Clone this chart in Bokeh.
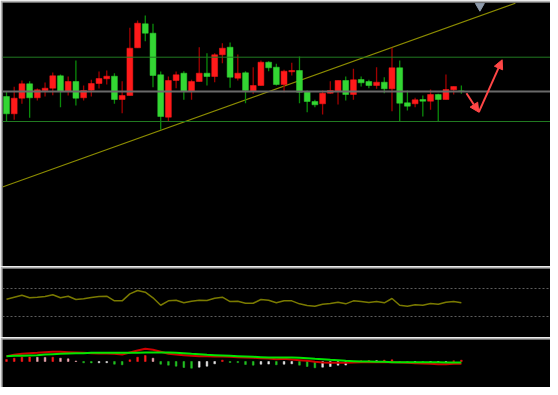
from bokeh.plotting import figure
from bokeh.layouts import column
from bokeh.models import Range1d, Span, Arrow, NormalHead, ColumnDataSource
from bokeh.embed import file_html
from bokeh.resources import INLINE

# ---------------- data ----------------
opens = [204.0, 186.7, 202.3, 216.7, 202.7, 210.0, 212.3, 224.7, 209.0, 219.0,
         202.7, 210.3, 217.0, 221.7, 224.3, 201.0, 205.0, 252.7, 276.7, 267.3,
         225.7, 183.3, 220.0, 227.3, 209.0, 219.0, 227.3, 224.0, 245.7, 253.3,
         222.3, 227.7, 209.3, 215.0, 238.3, 233.3, 216.0, 228.7, 230.0, 209.0,
         199.0, 196.7, 207.3, 209.3, 220.0, 206.0, 221.0, 219.0, 215.0, 218.3,
         211.7, 232.7, 197.7, 196.7, 201.0, 199.3, 206.0, 201.0, 210.7, 209.5]
highs = [209.0, 213.7, 220.0, 219.3, 212.0, 218.0, 228.0, 226.0, 224.0, 240.0,
         215.0, 220.7, 229.0, 230.0, 227.3, 219.3, 272.7, 280.0, 285.0, 276.7,
         229.0, 224.0, 229.0, 229.3, 220.7, 253.3, 247.3, 247.3, 257.3, 258.0,
         246.0, 229.3, 233.3, 240.0, 239.3, 236.7, 230.7, 237.7, 244.0, 210.0,
         200.7, 210.0, 219.3, 220.0, 224.0, 231.7, 224.0, 220.7, 233.3, 223.3,
         252.7, 240.0, 210.0, 202.7, 205.0, 211.0, 206.7, 226.0, 214.0, 215.0]
lows = [179.3, 180.7, 196.7, 182.7, 200.0, 204.0, 205.3, 193.3, 205.0, 195.0,
        200.0, 204.0, 212.0, 216.0, 196.7, 187.3, 205.0, 252.7, 259.3, 213.3,
        170.7, 179.0, 212.3, 200.7, 200.7, 219.0, 215.0, 218.3, 237.3, 212.7,
        220.0, 197.3, 206.7, 215.0, 229.3, 215.0, 208.3, 225.0, 197.3, 188.3,
        193.3, 186.0, 206.7, 196.0, 200.0, 200.7, 214.0, 212.3, 211.7, 207.3,
        189.3, 179.3, 190.0, 193.3, 184.0, 190.7, 179.0, 201.0, 206.0, 206.7]
closes = [186.7, 202.3, 216.7, 202.7, 210.7, 212.3, 224.7, 209.0, 219.0, 202.3,
          210.0, 217.0, 222.0, 224.3, 201.0, 205.0, 252.3, 277.3, 267.3, 225.0,
          184.0, 220.0, 225.7, 209.0, 219.0, 227.3, 224.0, 245.7, 252.3, 223.3,
          227.3, 210.0, 215.0, 238.3, 232.7, 216.0, 229.3, 230.0, 208.3, 199.0,
          195.7, 207.3, 210.0, 220.0, 206.0, 220.7, 217.7, 215.0, 218.3, 211.7,
          232.7, 197.3, 194.3, 200.7, 199.3, 206.0, 201.0, 211.0, 214.0, 209.3]

# horizontal levels (resistance, current, support)
levels = [243.3, 209.0, 179.0]
# trend line anchors (bar index, price)
trend_x = [-0.52, 66.0]
trend_y = [113.5, 297.2]
# projected path (bar index, price)
proj_x = [59.66, 61.26, 64.29]
proj_y = [207.3, 188.3, 240.7]
marker_x = [61.4]
marker_y = [294.5]

rsi = [54.7, 57.6, 60.4, 56.7, 57.6, 58.6, 61.0, 56.7, 59.0, 54.3,
       55.3, 57.1, 58.6, 59.0, 52.4, 52.4, 62.4, 67.1, 64.7, 56.7,
       46.1, 52.4, 53.3, 49.6, 51.9, 53.3, 52.9, 56.1, 57.6, 51.4,
       51.9, 49.0, 49.0, 54.3, 53.3, 49.6, 52.4, 52.4, 48.1, 45.7,
       44.7, 47.6, 48.6, 50.4, 48.1, 52.4, 51.4, 50.0, 51.4, 49.6,
       55.7, 46.1, 44.7, 46.7, 46.1, 48.6, 47.6, 50.4, 51.4, 49.6]
rsi_levels = [70, 30]

macd = [5.33, 6.67, 7.67, 8.33, 8.67, 9.33, 9.67, 9.67, 9.33, 9.0,
        8.67, 8.33, 8.0, 8.0, 7.67, 7.0, 9.0, 11.0, 12.67, 11.67,
        9.67, 7.67, 7.0, 6.33, 5.67, 5.33, 5.33, 5.0, 5.0, 4.67,
        4.33, 4.0, 3.67, 3.33, 3.0, 2.33, 2.67, 2.0, 1.33, 0.67,
        -0.33, -1.0, -1.33, -1.33, -1.33, -1.0, -0.67, -0.67, -0.67, -0.67,
        -0.67, -1.0, -1.33, -1.67, -2.0, -2.33, -2.67, -2.67, -2.33, -2.33]
signal = [5.33, 5.67, 5.67, 6.0, 6.33, 7.0, 7.33, 7.67, 8.0, 8.33,
          8.33, 8.67, 8.67, 8.67, 8.67, 8.67, 8.67, 8.67, 9.0, 9.0,
          9.0, 9.0, 8.67, 8.33, 7.67, 7.33, 6.67, 6.33, 6.0, 5.67,
          5.33, 5.0, 4.67, 4.33, 4.0, 4.0, 4.0, 4.0, 3.67, 3.33,
          2.67, 2.33, 1.67, 1.33, 0.67, 0.33, 0.0, 0.0, -0.33, -0.33,
          -0.67, -0.67, -0.67, -0.67, -0.67, -0.67, -0.67, -1.0, -1.0, -1.0]
hist = [2.0, 3.3, 4.3, 4.4, 4.2, 4.1, 4.3, 3.3, 2.7, 0.5,
        -1.3, -1.4, -1.3, -1.2, -2.7, -3.3, 1.7, 4.3, 6.0, 3.3,
        -2.7, -3.7, -4.7, -6.0, -6.7, -5.7, -4.7, -2.3, 1.3, -1.0,
        -1.1, -3.0, -3.7, -2.7, -2.6, -3.3, -2.7, -2.3, -3.7, -5.0,
        -6.3, -5.7, -5.0, -3.7, -3.6, -1.0, 0.7, 1.0, 0.9, 1.3,
        1.7, -0.7, -1.0, -0.9, -1.3, -1.2, -1.1, -1.0, 0.7, 1.3]

# ---------------- styling ----------------
UP_BODY, UP_WICK = "#ff1a1a", "#a00000"
DN_BODY, DN_WICK = "#33d633", "#0a8a0a"
BORDER = "#b0b0b0"

n = len(opens)
idx = list(range(n))
is_up = [c >= o for o, c in zip(opens, closes)]
src = ColumnDataSource(dict(
    x=idx, o=opens, h=highs, l=lows, c=closes,
    top=[max(o, c) for o, c in zip(opens, closes)],
    bot=[min(o, c) for o, c in zip(opens, closes)],
    body=[UP_BODY if u else DN_BODY for u in is_up],
    wick=[UP_WICK if u else DN_WICK for u in is_up],
))

xr = Range1d(-0.52, 70.56)


def make_fig(h, y0, y1):
    f = figure(width=550, height=h, x_range=xr, y_range=Range1d(y0, y1),
               output_backend="svg", toolbar_location=None, title=None,
               x_axis_location=None, y_axis_location=None,
               min_border_left=2, min_border_right=0, min_border_bottom=0,
               min_border_top=2, background_fill_color="black",
               border_fill_color=BORDER, outline_line_color=None)
    f.xgrid.visible = False
    f.ygrid.visible = False
    return f


# ---- main price panel ----
p = make_fig(266, 34, 298)
lev_colors = ["#217a21", "#6a6a6a", "#217a21"]
lev_widths = [1, 2, 1]
for lv, lc, lw in zip(levels, lev_colors, lev_widths):
    p.add_layout(Span(location=lv, dimension="width", line_color=lc, line_width=lw))
p.line(trend_x, trend_y, line_color="#8c8c00", line_width=1.2)
p.segment(x0="x", y0="l", x1="x", y1="h", source=src, line_color="wick", line_width=1.3)
p.vbar(x="x", top="top", bottom="bot", width=0.76, source=src,
       fill_color="body", line_color="body", line_width=0.5)
for i in range(len(proj_x) - 1):
    p.add_layout(Arrow(end=NormalHead(size=9, fill_color="#ff4646", line_color="#ff4646"),
                       x_start=proj_x[i], y_start=proj_y[i],
                       x_end=proj_x[i + 1], y_end=proj_y[i + 1],
                       line_color="#ff4646", line_width=2))
p.scatter(marker_x, marker_y, marker="inverted_triangle", size=9,
          fill_color="#8e9aaa", line_color="#8e9aaa")

# ---- RSI panel ----
r = make_fig(71, 0, 98.6)
for lv in rsi_levels:
    r.add_layout(Span(location=lv, dimension="width", line_color="#5c5c5c",
                      line_dash="2 2", line_width=1))
r.line(idx, rsi, line_color="#7a7a00", line_width=1.5)

# ---- MACD panel ----
m = make_fig(50, -26, 22)
hcols = []
for i, v in enumerate(hist):
    prev = hist[i - 1] if i > 0 else 0
    if v >= 0:
        hcols.append("#ff1a1a" if v >= prev else "#f0a8b0")
    else:
        hcols.append("#22c022" if v <= prev else "#e8e8e8")
m.vbar(x=idx, top=[max(v, 0) for v in hist], bottom=[min(v, 0) for v in hist],
       width=0.22, fill_color=hcols, line_color=hcols, line_width=0.5)
m.line(idx, macd, line_color="#d00000", line_width=2)
m.line(idx, signal, line_color="#00e600", line_width=2)

layout = column(p, r, m, spacing=0)
open("out.html", "w").write(file_html(layout, INLINE))
